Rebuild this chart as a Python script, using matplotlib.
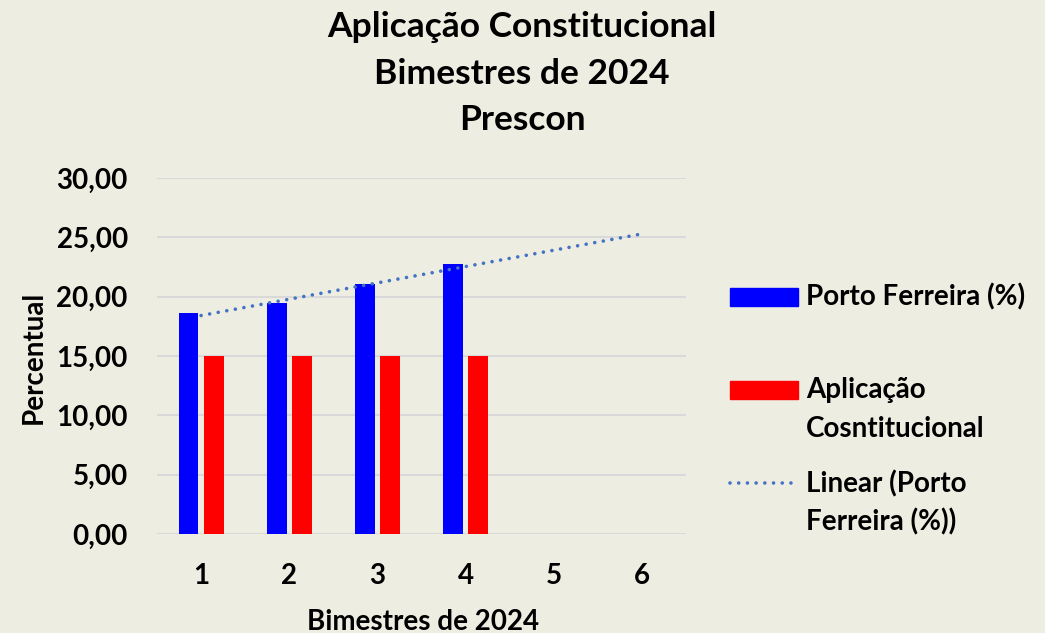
import numpy as np
import matplotlib
matplotlib.use("Agg")
import matplotlib.pyplot as plt
from matplotlib.patches import Rectangle
from matplotlib.lines import Line2D

plt.rcParams['font.family'] = ['Lato', 'DejaVu Sans']

bimestres = [1, 2, 3, 4, 5, 6]
x_bars = [1, 2, 3, 4]
porto_ferreira = [18.65, 19.49, 21.04, 22.72]
aplicacao = [15.0, 15.0, 15.0, 15.0]
yticks = [0, 5, 10, 15, 20, 25, 30]
ytick_labels = ["0,00", "5,00", "10,00", "15,00", "20,00", "25,00", "30,00"]

title_lines = ["Aplicação Constitucional", "Bimestres de 2024", "Prescon"]
xlabel = "Bimestres de 2024"
ylabel = "Percentual"
label_pf = "Porto Ferreira (%)"
label_ap = ["Aplicação", "Cosntitucional"]
label_lin = ["Linear (Porto", "Ferreira (%))"]

bg = "#EEEDE1"
blue = "#0000FF"
red = "#FF0000"
trend_color = "#4472C4"

W, H = 1045, 633
def fx(px): return px / W
def fy(py): return 1 - py / H

fig = plt.figure(figsize=(10.45, 6.33), dpi=100, facecolor=bg)
ax = fig.add_axes([fx(157), fy(534), fx(686) - fx(157), fy(178) - fy(534)])
ax.set_facecolor(bg)

w = 0.225
off = 0.142
xb = np.array(x_bars, dtype=float)
ax.bar(xb - off, porto_ferreira, width=w, color=blue, zorder=3)
ax.bar(xb + off, aplicacao, width=w, color=red, zorder=3)

dots = (0, (0.01, 2.4))
coef = np.polyfit(xb, porto_ferreira, 1)
xt = np.array([bimestres[0], bimestres[-1]], dtype=float)
ax.plot(xt, np.polyval(coef, xt), color=trend_color, linestyle=dots,
        linewidth=2.6, dash_capstyle='round', zorder=4)

ax.set_xlim(0.5, 6.5)
ax.set_ylim(0, 30)
ax.set_yticks(yticks)
ax.set_yticklabels(ytick_labels)
ax.set_xticks(bimestres)
ax.set_xticklabels([str(b) for b in bimestres])
ax.grid(axis='y', color='#D9D9D9', linewidth=1.5, zorder=0)
for s in ax.spines.values():
    s.set_visible(False)
ax.tick_params(axis='both', length=0, labelsize=20)
ax.tick_params(axis='y', pad=21)
ax.tick_params(axis='x', pad=21)
for lbl in ax.get_xticklabels() + ax.get_yticklabels():
    lbl.set_fontweight('bold')

fs = 20
fig.text(fx(423), fy(630), xlabel, ha='center', va='baseline', fontsize=fs, fontweight='bold')
fig.text(fx(42), fy(357), ylabel, ha='center', va='baseline', rotation=90,
         rotation_mode='anchor', fontsize=fs, fontweight='bold')

for txt, base in zip(title_lines, [37, 84, 130]):
    fig.text(fx(522), fy(base), txt, ha='center', va='baseline', fontsize=25.5, fontweight='bold')

# legend (manual, handles aligned to the first text line like the reference)
fig.patches.append(Rectangle((fx(730), fy(306)), fx(798) - fx(730), fy(288) - fy(306),
                             transform=fig.transFigure, color=blue))
fig.patches.append(Rectangle((fx(730), fy(399)), fx(798) - fx(730), fy(381) - fy(399),
                             transform=fig.transFigure, color=red))
fig.lines.append(Line2D([fx(730), fx(792)], [fy(483), fy(483)], transform=fig.transFigure,
                        color=trend_color, linestyle=dots, linewidth=2.6,
                        dash_capstyle='round'))
fig.text(fx(806), fy(305), label_pf, ha='left', va='baseline', fontsize=fs, fontweight='bold')
fig.text(fx(806), fy(398), label_ap[0], ha='left', va='baseline', fontsize=fs, fontweight='bold')
fig.text(fx(806), fy(437), label_ap[1], ha='left', va='baseline', fontsize=fs, fontweight='bold')
fig.text(fx(806), fy(492), label_lin[0], ha='left', va='baseline', fontsize=fs, fontweight='bold')
fig.text(fx(806), fy(530), label_lin[1], ha='left', va='baseline', fontsize=fs, fontweight='bold')

fig.savefig("out.png", dpi=100, facecolor=bg)
